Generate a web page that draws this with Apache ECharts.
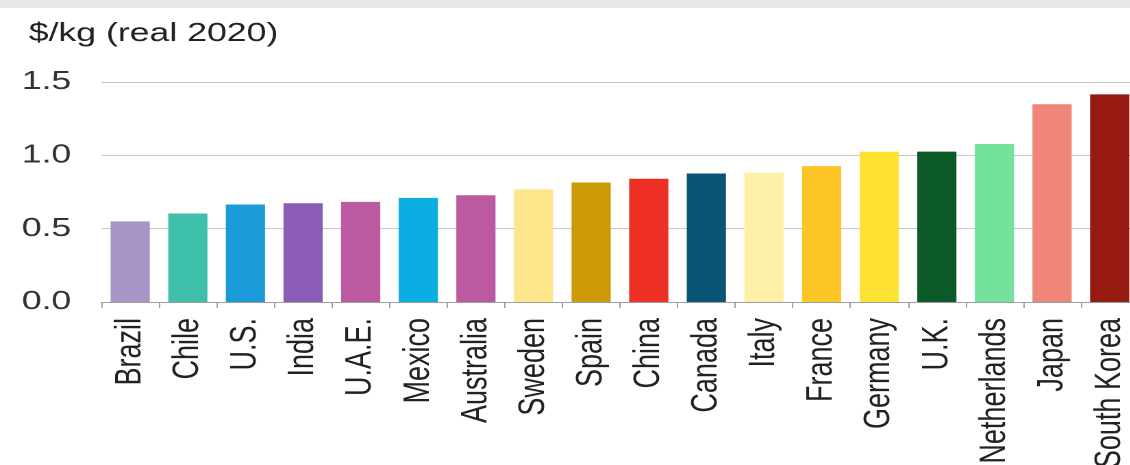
<!DOCTYPE html>
<html>
<head>
<meta charset="utf-8">
<script src="https://cdn.jsdelivr.net/npm/echarts@6/dist/echarts.min.js"></script>
<style>
  html, body {
    margin: 0;
    padding: 0;
    background: #fff;
  }
  .wrap {
    width: 1130px;
    height: 465px;
    overflow: hidden;
    position: relative;
  }
  /* the source picture is stretched sideways, so draw narrow and widen it */
  .chart {
    width: 825px;
    height: 465px;
    transform: scaleX(1.37);
    transform-origin: 0 0;
  }
</style>
</head>
<body>
<div class="wrap">
  <div class="chart" id="chart"></div>
</div>
<script>
const countries = ["Brazil", "Chile", "U.S.", "India", "U.A.E.", "Mexico", "Australia", "Sweden", "Spain",
  "China", "Canada", "Italy", "France", "Germany", "U.K.", "Netherlands", "Japan", "South Korea"];
const prices = [0.55, 0.603, 0.665, 0.673, 0.683, 0.71, 0.728, 0.767, 0.815,
  0.84, 0.876, 0.883, 0.926, 1.025, 1.025, 1.077, 1.348, 1.416];
const barColors = ["#a895c8", "#3dbfaa", "#1a9ad9", "#8b5cb5", "#bb5aa0", "#0aaee3", "#bb5aa0", "#fde68a", "#cb9a06",
  "#ee3124", "#0a5475", "#fdf0a6", "#fdc526", "#fde232", "#0b5a27", "#72e29d", "#f0857a", "#961a10"];
const yTicks = [0, 0.5, 1.0, 1.5];
const unitLabel = "$/kg (real 2020)";

const font = "'Liberation Sans', Arial, sans-serif";

const chart = echarts.init(document.getElementById("chart"), null, { devicePixelRatio: 2 });
const option = {
  animation: false,
  backgroundColor: "#fff",
  title: {
    text: unitLabel,
    left: 16,
    top: 16,
    textStyle: {
      fontFamily: font,
      fontSize: 26,
      fontWeight: "normal",
      color: "#222",
    },
  },
  graphic: [
    {
      type: "rect",
      left: 0,
      top: 0,
      shape: { width: 825, height: 8 },
      style: { fill: "#e6e8eb" },
    },
  ],
  grid: {
    left: 74,
    right: -6,
    top: 82,
    bottom: 163,
    outerBoundsMode: "none", // labels run off the bottom like the source
  },
  xAxis: {
    type: "category",
    data: countries,
    axisLine: {
      show: true,
      lineStyle: { color: "#a0a0a0", width: 1 },
    },
    axisTick: {
      show: true,
      length: 6,
      lineStyle: { color: "#a0a0a0" },
    },
    axisLabel: {
      interval: 0,
      rotate: 90,
      margin: 16,
      fontFamily: font,
      fontSize: 27,
      color: "#222",
    },
  },
  yAxis: {
    type: "value",
    min: yTicks[0],
    max: yTicks[yTicks.length - 1],
    interval: 0.5,
    axisLine: { show: false },
    axisTick: { show: false },
    axisLabel: {
      margin: 22,
      fontFamily: font,
      fontSize: 26,
      color: "#333",
      formatter: (v) => v.toFixed(1),
    },
    splitLine: {
      lineStyle: { color: "#c8c8c8", width: 1 },
    },
  },
  series: [
    {
      type: "bar",
      barWidth: "68%",
      data: prices.map((v, i) => ({
        value: v,
        itemStyle: { color: barColors[i] },
      })),
    },
  ],
};
chart.setOption(option);
</script>
</body>
</html>
